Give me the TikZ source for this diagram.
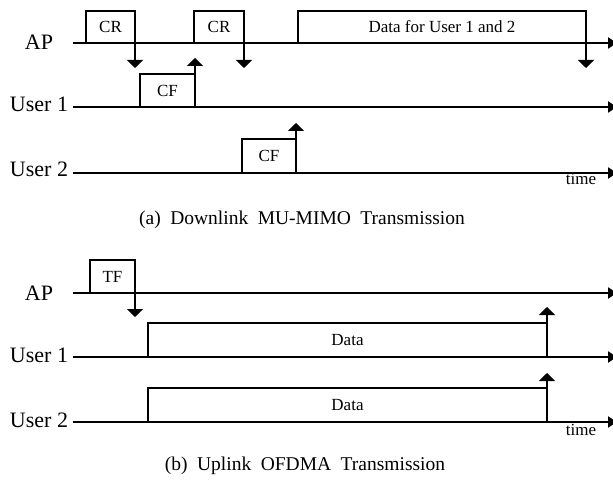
\documentclass[tikz,border=0pt]{standalone}
\usepackage{fontspec}
\setmainfont{Liberation Serif}
\usetikzlibrary{arrows.meta}

\protected\def\capfont{\fontsize{19.5}{20}\selectfont\spaceskip=9.5pt\relax}

\tikzset{
  lane/.style={line width=2pt, -{Triangle[width=11pt,length=9pt]}},
  frame/.style={draw, line width=1.5pt, anchor=south west, inner sep=0pt, outer sep=0pt,
    minimum height=33pt, font=\fontsize{17}{17}\selectfont},
  sig/.style={line width=1.2pt, -{Triangle[width=16pt,length=8pt]}},
  who/.style={anchor=base, font=\fontsize{22}{22}\selectfont},
  tlab/.style={anchor=base, font=\fontsize{17}{17}\selectfont},
  capt/.style={anchor=base, font=\capfont},
}

\begin{document}
\begin{tikzpicture}[x=1pt, y=-1pt]
\useasboundingbox (0,0) rectangle (613,481);

% (a) downlink
\begin{scope}
  \node[who] (ap) at (39,50) {AP};
  \node[who] (usr1) at (39,112) {User 1};
  \node[who] (usr2) at (39,177) {User 2};

  \coordinate (ap-s) at (73,43);    \coordinate (ap-e) at (617,43);
  \coordinate (usr1-s) at (73,107); \coordinate (usr1-e) at (617,107);
  \coordinate (usr2-s) at (73,173); \coordinate (usr2-e) at (617,173);
  \draw[lane] (ap-s) -- (ap-e);
  \draw[lane] (usr1-s) -- (usr1-e);
  \draw[lane] (usr2-s) -- (usr2-e);

  \node[frame, minimum width=49pt, minimum height=32pt] (cr1) at (86,43) {CR};
  \node[frame, minimum width=50pt, minimum height=32pt] (cr2) at (194,43) {CR};
  \node[frame, minimum width=288pt, minimum height=32pt] (dl) at (298,43) {Data for User 1 and 2};
  \node[frame, minimum width=55pt] (cf1) at (140,107) {CF};
  \node[frame, minimum width=54pt, minimum height=34pt] (cf2) at (242,173) {CF};

  \coordinate (cr1-tip) at (135,68);
  \coordinate (cr2-tip) at (244,68);
  \coordinate (dl-tip) at (586,68);
  \coordinate (cf1-tip) at (195,58);
  \coordinate (cf2-tip) at (296,123);
  \draw[sig] (cr1.south east) -- (cr1-tip);
  \draw[sig] (cr2.south east) -- (cr2-tip);
  \draw[sig] (dl.south east) -- (dl-tip);
  \draw[sig] (cf1.north east) -- (cf1-tip);
  \draw[sig] (cf2.north east) -- (cf2-tip);

  \node[tlab] (time-a) at (581,185) {time};
\end{scope}
\node[capt] (cap-a) at (302,225) {(a) Downlink MU-MIMO Transmission};

% (b) uplink
\begin{scope}[yshift=-250pt]
  \node[who] (ul-ap) at (39,50) {AP};
  \node[who] (ul-usr1) at (39,112) {User 1};
  \node[who] (ul-usr2) at (39,177) {User 2};

  \coordinate (ul-ap-s) at (73,43);      \coordinate (ul-ap-e) at (617,43);
  \coordinate (ul-usr1-s) at (73,107);   \coordinate (ul-usr1-e) at (617,107);
  \coordinate (ul-usr2-s) at (73,172);   \coordinate (ul-usr2-e) at (617,172);
  \draw[lane] (ul-ap-s) -- (ul-ap-e);
  \draw[lane] (ul-usr1-s) -- (ul-usr1-e);
  \draw[lane] (ul-usr2-s) -- (ul-usr2-e);

  \node[frame, minimum width=45pt] (tf) at (90,43) {TF};
  \node[frame, minimum width=399pt, minimum height=34pt] (ud1) at (148,107) {Data};
  \node[frame, minimum width=399pt, minimum height=34pt] (ud2) at (148,172) {Data};

  \coordinate (tf-tip) at (135,67);
  \coordinate (ud1-tip) at (547,57);
  \coordinate (ud2-tip) at (547,123);
  \draw[sig] (tf.south east) -- (tf-tip);
  \draw[sig] (ud1.north east) -- (ud1-tip);
  \draw[sig] (ud2.north east) -- (ud2-tip);

  \node[tlab] (time-b) at (581,185) {time};
\end{scope}
\node[capt] (cap-b) at (305,470) {(b) Uplink OFDMA Transmission};
\end{tikzpicture}
\end{document}
